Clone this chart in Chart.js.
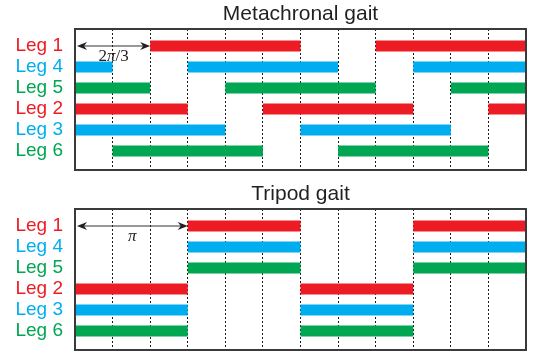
<!DOCTYPE html>
<html>
<head>
<meta charset="utf-8">
<script src="https://cdn.jsdelivr.net/npm/chart.js@4"></script>
<style>
  html, body { margin: 0; padding: 0; background: #ffffff; }
  #wrap { position: relative; width: 533px; height: 355px; }
  canvas { position: absolute; left: 0; display: block; }
  #metaChart { top: 0; }
  #tripodChart { top: 180px; }
</style>
</head>
<body>
<div id="wrap">
  <canvas id="metaChart" width="533" height="180"></canvas>
  <canvas id="tripodChart" width="533" height="175"></canvas>
</div>
<script>
// Row order and colours of the six legs (top to bottom)
const legNames  = ["Leg 1", "Leg 4", "Leg 5", "Leg 2", "Leg 3", "Leg 6"];
const legColors = ["#ED1C24", "#00AEEF", "#00A651", "#ED1C24", "#00AEEF", "#00A651"];

// Phase axis in steps of pi/3 (0 .. 4pi)
const phaseMin = 0;
const phaseMax = 12;

// Stance intervals per leg, in pi/3 units
const metachronalStance = [
  [[2, 6], [8, 12]],
  [[0, 1], [3, 7], [9, 12]],
  [[0, 2], [4, 8], [10, 12]],
  [[0, 3], [5, 9], [11, 12]],
  [[0, 4], [6, 10]],
  [[1, 5], [7, 11]]
];
const tripodStance = [
  [[3, 6], [9, 12]],
  [[3, 6], [9, 12]],
  [[3, 6], [9, 12]],
  [[0, 3], [6, 9]],
  [[0, 3], [6, 9]],
  [[0, 3], [6, 9]]
];

// Phase-lag markers: span in pi/3 units and their labels
const metachronalLag = [0, 2];
const metachronalLagLabel = [["2", false], ["\u03C0", true], ["/3", false]];
const tripodLag = [0, 3];
const tripodLagLabel = [["\u03C0", true]];

const sansFont = "'Liberation Sans', Arial, Helvetica, sans-serif";
const serifFont = "'Liberation Serif', 'Times New Roman', serif";

function buildDatasets(stance) {
  const sets = [];
  stance.forEach((segments, row) => {
    segments.forEach(([start, end]) => {
      sets.push({
        data: [{ x: start, y: row + 1 }, { x: end, y: row + 1 }],
        showLine: true,
        borderColor: legColors[row],
        backgroundColor: legColors[row],
        borderWidth: 11,
        borderCapStyle: 'butt',
        pointRadius: 0,
        pointHoverRadius: 0,
        clip: false
      });
    });
  });
  return sets;
}

// Frame, heading and the double-headed phase-lag arrow
const gaitDecor = {
  id: 'gaitDecor',
  afterDraw(chart, args, opts) {
    const { ctx, chartArea: a, scales: { x, y } } = chart;
    ctx.save();
    // frame
    ctx.strokeStyle = '#3a3a3a';
    ctx.lineWidth = 2;
    ctx.strokeRect(a.left, a.top, a.right - a.left, a.bottom - a.top);

    // heading
    ctx.fillStyle = '#231F20';
    ctx.font = "21px " + sansFont;
    ctx.textAlign = 'center';
    ctx.textBaseline = 'alphabetic';
    ctx.fillText(opts.title, (a.left + a.right) / 2, a.top - 9);

    // arrow
    const x0 = x.getPixelForValue(opts.span[0]) + 2;
    const x1 = x.getPixelForValue(opts.span[1]);
    const yy = y.getPixelForValue(1);
    ctx.strokeStyle = '#333333';
    ctx.fillStyle = '#231F20';
    ctx.lineWidth = 1.2;
    ctx.beginPath();
    ctx.moveTo(x0 + 6, yy);
    ctx.lineTo(x1 - 6, yy);
    ctx.stroke();
    const head = (tip, dir) => {
      ctx.beginPath();
      ctx.moveTo(tip, yy);
      ctx.lineTo(tip - dir * 10, yy - 4);
      ctx.lineTo(tip - dir * 7, yy);
      ctx.lineTo(tip - dir * 10, yy + 4);
      ctx.closePath();
      ctx.fill();
    };
    head(x0, -1);
    head(x1, 1);

    // label under the arrow
    const parts = opts.label.map(([t, it]) => {
      ctx.font = (it ? "italic " : "") + "17px " + serifFont;
      return { t, it, w: ctx.measureText(t).width };
    });
    const total = parts.reduce((s, p) => s + p.w, 0);
    let cx = (x0 + x1) / 2 - total / 2;
    ctx.textAlign = 'left';
    parts.forEach(p => {
      ctx.font = (p.it ? "italic " : "") + "17px " + serifFont;
      ctx.fillText(p.t, cx, yy + 15);
      cx += p.w;
    });
    ctx.restore();
  }
};

function makeChart(canvasId, stance, title, span, label, bottomPad) {
  return new Chart(document.getElementById(canvasId), {
    type: 'scatter',
    data: { datasets: buildDatasets(stance) },
    plugins: [gaitDecor],
    options: {
      responsive: false,
      animation: false,
      events: [],
      layout: { padding: { top: 29, bottom: bottomPad, left: 0, right: 7 } },
      plugins: {
        legend: { display: false },
        tooltip: { enabled: false },
        title: { display: false },
        gaitDecor: { title, span, label }
      },
      scales: {
        x: {
          type: 'linear',
          min: phaseMin,
          max: phaseMax,
          ticks: { display: false, stepSize: 1 },
          grid: { color: '#1a1a1a', lineWidth: 1, drawTicks: false },
          border: { display: false, dash: [2, 2] },
          afterFit(s) { s.height = 0; s.paddingLeft = 0; s.paddingRight = 0; }
        },
        y: {
          type: 'linear',
          reverse: true,
          min: 0.19,
          max: 6.9,
          afterBuildTicks(s) { s.ticks = legNames.map((_, i) => ({ value: i + 1 })); },
          ticks: {
            autoSkip: false,
            padding: 12,
            font: { family: sansFont, size: 19 },
            color: (c) => legColors[(c.tick ? c.tick.value : 1) - 1],
            callback: (v) => legNames[v - 1]
          },
          grid: { display: false, drawTicks: false },
          border: { display: false },
          afterFit(s) { s.width = 75; s.paddingTop = 0; s.paddingBottom = 0; }
        }
      }
    }
  });
}

makeChart('metaChart', metachronalStance, 'Metachronal gait', metachronalLag, metachronalLagLabel, 10);
makeChart('tripodChart', tripodStance, 'Tripod gait', tripodLag, tripodLagLabel, 5);
</script>
</body>
</html>
